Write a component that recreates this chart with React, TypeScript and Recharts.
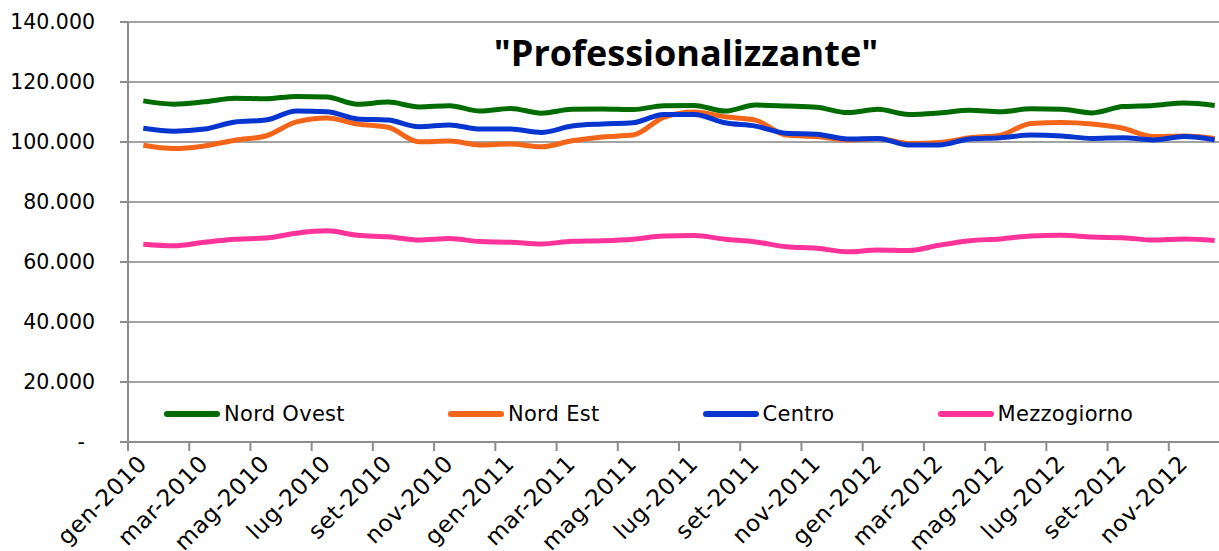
import { CartesianGrid, Legend, Line, LineChart, XAxis, YAxis } from "recharts";

const monthNames = ["gen", "feb", "mar", "apr", "mag", "giu", "lug", "ago", "set", "ott", "nov", "dic"];
const years = [2010, 2011, 2012];
const months = years.flatMap((y) => monthNames.map((m) => `${m}-${y}`));

// values, gen-2010 .. dic-2012
const nordOvest = [
  113700, 112600, 113400, 114600, 114400, 115200, 115000, 112600, 113300, 111700, 112100, 110300,
  111200, 109600, 110900, 111000, 110800, 112100, 112200, 110300, 112300, 112000, 111600, 109800,
  110900, 109200, 109700, 110600, 110100, 111100, 110900, 109700, 111800, 112200, 113000, 112200,
];
const nordEst = [
  98900, 97800, 98700, 100600, 102000, 106700, 108000, 106000, 104900, 100100, 100300, 99000,
  99300, 98400, 100400, 101700, 102300, 108200, 110000, 108400, 107300, 102300, 101800, 100700,
  101200, 99500, 99800, 101400, 102300, 106200, 106500, 106000, 104600, 101800, 102000, 101200,
];
const centro = [
  104600, 103600, 104300, 106700, 107300, 110300, 110100, 107700, 107300, 105100, 105700, 104300,
  104300, 103200, 105300, 106000, 106400, 109200, 109200, 106400, 105300, 102900, 102600, 101000,
  101200, 99000, 99000, 101000, 101400, 102300, 102000, 101200, 101400, 100700, 101800, 100700,
];
const mezzogiorno = [
  65900, 65400, 66600, 67600, 68000, 69600, 70400, 68900, 68400, 67300, 67800, 66800,
  66600, 66000, 66900, 67100, 67600, 68700, 68800, 67600, 66700, 65100, 64600, 63400,
  64000, 63800, 65600, 67100, 67700, 68700, 68900, 68300, 68100, 67300, 67700, 67200,
];

const yTicks = [0, 20000, 40000, 60000, 80000, 100000, 120000, 140000];
const xTicks = months.map((_, i) => i).filter((i) => i % 2 === 0);

const series = [
  { key: "nordOvest", name: "Nord Ovest", color: "#006c00" },
  { key: "nordEst", name: "Nord Est", color: "#f36619" },
  { key: "centro", name: "Centro", color: "#0636cf" },
  { key: "mezzogiorno", name: "Mezzogiorno", color: "#ff3399" },
];

const data = months.map((month, i) => ({
  x: i + 0.5,
  month,
  nordOvest: nordOvest[i],
  nordEst: nordEst[i],
  centro: centro[i],
  mezzogiorno: mezzogiorno[i],
}));

const FONT = "'DejaVu Sans', sans-serif";
const TITLE_FONT = "'Open Sans', sans-serif";
const CHART_W = 1240;
const Y_AXIS_W = 128;
const MARGIN_RIGHT = 10;
const BAND = (CHART_W - Y_AXIS_W - MARGIN_RIGHT) / months.length;

function formatThousands(v: number) {
  return v.toLocaleString("it-IT");
}

function YTick({ x, y, payload }: any) {
  const v = payload.value as number;
  return (
    <text x={v === 0 ? x - 10 : x} y={y} dy="0.355em" textAnchor="end" fontSize={20.5} fill="#000" fontFamily={FONT}>
      {v === 0 ? "-" : formatThousands(v)}
    </text>
  );
}

function XTick({ x, y, payload }: any) {
  const label = months[payload.value];
  return (
    <g transform={`translate(${x + BAND / 2 + 5},${y + 12})`}>
      <text textAnchor="end" transform="rotate(-45)" fontSize={23} letterSpacing={0.6} fill="#000" fontFamily={FONT}>
        {label}
      </text>
    </g>
  );
}

function LegendContent() {
  return (
    <div style={{ display: "flex", paddingLeft: 164, fontFamily: FONT, whiteSpace: "nowrap" }}>
      {series.map((s) => (
        <div key={s.key} style={{ display: "flex", alignItems: "center", marginRight: 103, flexShrink: 0 }}>
          <span style={{ width: 56, height: 6, borderRadius: 3, background: s.color, display: "inline-block" }} />
          <span style={{ marginLeft: 4, fontSize: 21, letterSpacing: 0.3, color: "#000" }}>{s.name}</span>
        </div>
      ))}
    </div>
  );
}

export default function App() {
  return (
    <div style={{ position: "fixed", left: 0, top: 0, width: 1219, height: 551, overflow: "hidden", background: "#fff", fontFamily: FONT }}>
      <LineChart width={CHART_W} height={551} data={data} margin={{ top: 22, right: MARGIN_RIGHT, left: 0, bottom: 0 }}>
        <CartesianGrid vertical={false} stroke="#a3a3a3" strokeWidth={2} />
        <XAxis
          type="number"
          dataKey="x"
          domain={[0, months.length]}
          ticks={xTicks}
          interval={0}
          height={109}
          tick={<XTick />}
          tickSize={9}
          axisLine={{ stroke: "#8c8c8c", strokeWidth: 2 }}
          tickLine={{ stroke: "#8c8c8c", strokeWidth: 2 }}
        />
        <YAxis
          domain={[0, 140000]}
          ticks={yTicks}
          interval={0}
          width={Y_AXIS_W}
          tick={<YTick />}
          tickSize={8}
          tickMargin={25}
          axisLine={{ stroke: "#8c8c8c", strokeWidth: 2 }}
          tickLine={{ stroke: "#8c8c8c", strokeWidth: 2 }}
        />
        <Legend
          verticalAlign="middle"
          align="center"
          content={<LegendContent />}
          wrapperStyle={{ top: 402, left: 0, width: 1219 }}
        />
        {series.map((s) => (
          <Line
            key={s.key}
            type="monotone"
            dataKey={s.key}
            name={s.name}
            stroke={s.color}
            strokeWidth={5}
            dot={false}
            activeDot={false}
            isAnimationActive={false}
          />
        ))}
      </LineChart>
      <div
        style={{
          position: "absolute",
          left: 0,
          top: 35,
          width: 1372,
          textAlign: "center",
          fontFamily: TITLE_FONT,
          fontSize: 36,
          lineHeight: "36px",
          fontWeight: 700,
          color: "#000",
        }}
      >
        "Professionalizzante"
      </div>
    </div>
  );
}
